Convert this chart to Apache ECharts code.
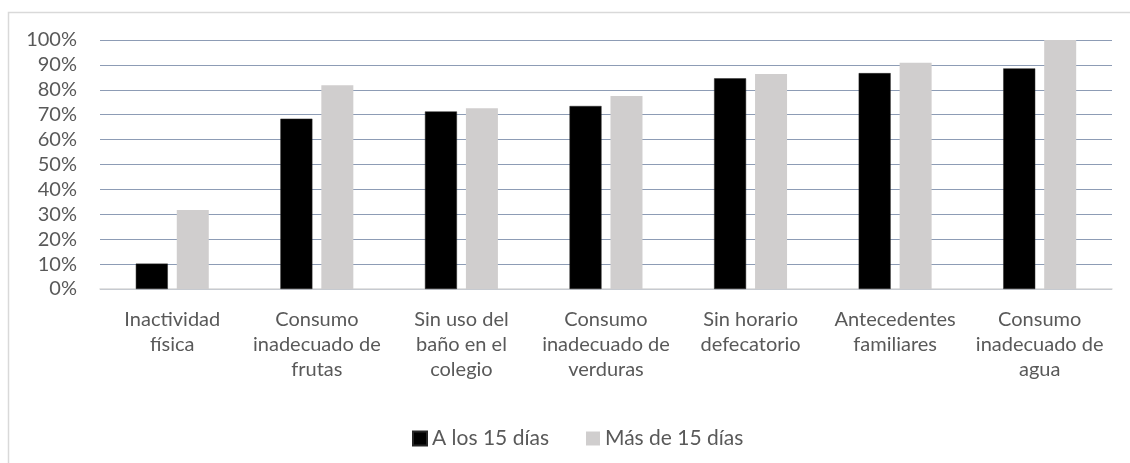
<!DOCTYPE html>
<html>
<head>
<meta charset="utf-8">
<script src="https://cdn.jsdelivr.net/npm/echarts@6/dist/echarts.min.js"></script>
<style>
html,body{margin:0;padding:0;background:#fff;}
#c{width:1130px;height:463px;}
</style>
</head>
<body>
<div id="c"></div>
<script>
const categories = [
  "Inactividad\nfísica",
  "Consumo\ninadecuado de\nfrutas",
  "Sin uso del\nbaño en el\ncolegio",
  "Consumo\ninadecuado de\nverduras",
  "Sin horario\ndefecatorio",
  "Antecedentes\nfamiliares",
  "Consumo\ninadecuado de\nagua"
];
const seriesNames = ["A los 15 días", "Más de 15 días"];
const a15 = [10.2, 68.4, 71.3, 73.5, 84.6, 86.7, 88.6];
const mas15 = [31.7, 81.8, 72.6, 77.5, 86.3, 90.9, 100];
const yTicks = [0, 10, 20, 30, 40, 50, 60, 70, 80, 90, 100];

const FONT = 'Lato';
const TXT = '#595959';
const chart = echarts.init(document.getElementById('c'), null, {renderer: 'canvas'});
chart.setOption({
  animation: false,
  textStyle: {fontFamily: FONT},
  graphic: [{
    type: 'rect', left: 6, top: 10, silent: true,
    shape: {width: 1200, height: 600},
    style: {fill: 'none', stroke: '#d9d9d9', lineWidth: 1.5}
  }],
  grid: {left: 100, right: 18, top: 40, bottom: 174, containLabel: false},
  legend: {
    data: seriesNames,
    left: 407, top: 423,
    itemWidth: 14, itemHeight: 14, itemGap: 37,
    icon: 'rect',
    textStyle: {fontFamily: FONT, fontSize: 21, color: TXT}
  },
  xAxis: {
    type: 'category',
    data: categories,
    axisLine: {lineStyle: {color: '#d9d9d9', width: 1.5}},
    axisTick: {show: false},
    axisLabel: {interval: 0, fontFamily: FONT, fontSize: 20, color: TXT, lineHeight: 25, margin: 18, align: 'center'}
  },
  yAxis: {
    type: 'value',
    min: 0, max: 100, interval: 10,
    axisLine: {show: false},
    axisTick: {show: false},
    splitLine: {lineStyle: {color: '#8d9cb5', width: 1}},
    axisLabel: {fontFamily: FONT, fontSize: 20, color: TXT, margin: 23,
      formatter: v => yTicks.includes(v) ? v + '%' : ''}
  },
  series: [
    {name: seriesNames[0], type: 'bar', data: a15, barWidth: 32, barGap: '28%',
     itemStyle: {color: '#000000', borderColor: '#262626', borderWidth: 0.5}},
    {name: seriesNames[1], type: 'bar', data: mas15, barWidth: 32,
     itemStyle: {color: '#d0cece'}}
  ]
});
</script>
</body>
</html>
